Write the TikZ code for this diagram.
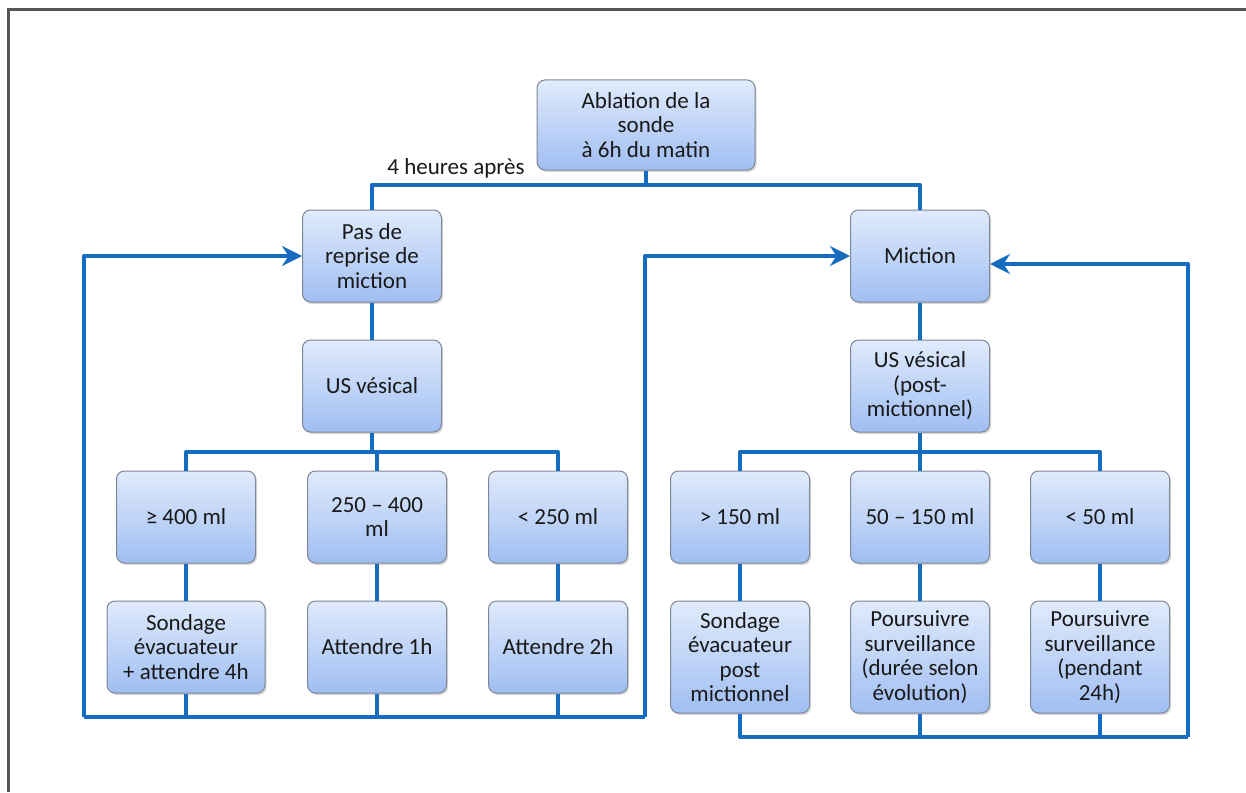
\documentclass[tikz,border=0pt]{standalone}
\usepackage{fontspec}
\setmainfont{Carlito}
\usepackage{xcolor}
\usetikzlibrary{arrows.meta, shadows}

\definecolor{lienbleu}{RGB}{22,108,190}
\definecolor{haut}{RGB}{224,235,252}
\definecolor{bas}{RGB}{160,190,242}
\definecolor{bord}{RGB}{125,135,152}
\definecolor{cadre}{RGB}{85,85,85}

\tikzset{
 boite/.style={draw=bord, line width=0.5pt, rounded corners=4pt,
  top color=haut, bottom color=bas, minimum width=69.5pt, minimum height=46pt,
  align=center, inner sep=2pt, text=black!90,
  font=\fontsize{11.5}{12.3}\selectfont,
  drop shadow={shadow xshift=0.8pt, shadow yshift=-1pt, opacity=0.3}},
 lien/.style={draw=lienbleu, line width=2pt, line join=round},
 fleche/.style={lien, -{Stealth[length=10pt, width=10pt]}},
}

\begin{document}
\begin{tikzpicture}[x=0.5pt, y=-0.5pt]
\useasboundingbox (0,0) rectangle (1246,792);
\draw[cadre, line width=1.5pt] (8,792) -- (8,10) -- (1246,10);

% haut
\node[boite, minimum width=109pt, minimum height=45pt] (abl) at (646,125) {Ablation de la\\sonde\\à 6h du matin};
\node[text=black!90, font=\fontsize{11.5}{12.3}\selectfont] (apres) at (456,168) {4 heures après};

% branche gauche
\node[boite] (pas) at (372,256) {Pas de\\reprise de\\miction};
\node[boite] (usg) at (372,386) {US vésical};
\node[boite] (g1) at (186,517) {≥ 400 ml};
\node[boite] (g2) at (377,517) {250 – 400\\ml};
\node[boite] (g3) at (558,517) {< 250 ml};
\node[boite, minimum width=79pt] (s1) at (186,647) {Sondage\\évacuateur\\+ attendre 4h};
\node[boite] (s2) at (377,647) {Attendre 1h};
\node[boite] (s3) at (558,647) {Attendre 2h};

% branche droite
\node[boite] (mic) at (920,256) {Miction};
\node[boite] (usd) at (920,386) {US vésical\\(post-\\mictionnel)};
\node[boite] (d1) at (740,517) {> 150 ml};
\node[boite] (d2) at (920,517) {50 – 150 ml};
\node[boite] (d3) at (1100,517) {< 50 ml};
\node[boite, minimum height=56pt] (p1) at (740,657) {Sondage\\évacuateur\\post\\mictionnel};
\node[boite, minimum height=56pt] (p2) at (920,657) {Poursuivre\\surveillance\\(durée selon\\évolution)};
\node[boite, minimum height=56pt] (p3) at (1100,657) {Poursuivre\\surveillance\\(pendant\\24h)};

\coordinate (t1) at (646,185);
\coordinate (b1) at (372,452);
\coordinate (b2) at (920,452);
\coordinate (r1) at (84,717);
\coordinate (r2) at (645,717);
\coordinate (r3) at (1188,737);

\draw[lien] (abl) -- (t1);
\draw[lien] (pas.north) |- (t1) -| (mic.north);

\draw[lien] (pas) -- (usg);
\draw[lien] (usg) -- (b1);
\draw[lien] (g1.north) |- (b1) -| (g3.north);
\draw[lien] (g2.north) -- (g2.north |- b1);
\foreach \a/\b in {g1/s1, g2/s2, g3/s3}
 \draw[lien] (\a) -- (\b);
\foreach \a in {s1, s2, s3}
 \draw[lien] (\a.south) -- (\a.south |- r1);
\draw[lien] (r1) -- (r2);
\draw[fleche] (r1) |- (pas.west);
\draw[fleche] (r2) |- (mic.west);

\draw[lien] (mic) -- (usd);
\draw[lien] (usd) -- (b2);
\draw[lien] (d1.north) |- (b2) -| (d3.north);
\draw[lien] (d2.north) -- (d2.north |- b2);
\foreach \a/\b in {d1/p1, d2/p2, d3/p3}
 \draw[lien] (\a) -- (\b);
\foreach \a in {p2, p3}
 \draw[lien] (\a.south) -- (\a.south |- r3);
\draw[lien] (p1.south) |- (r3);
\draw[fleche] (r3) |- ([yshift=-4pt]mic.east);
\end{tikzpicture}
\end{document}
